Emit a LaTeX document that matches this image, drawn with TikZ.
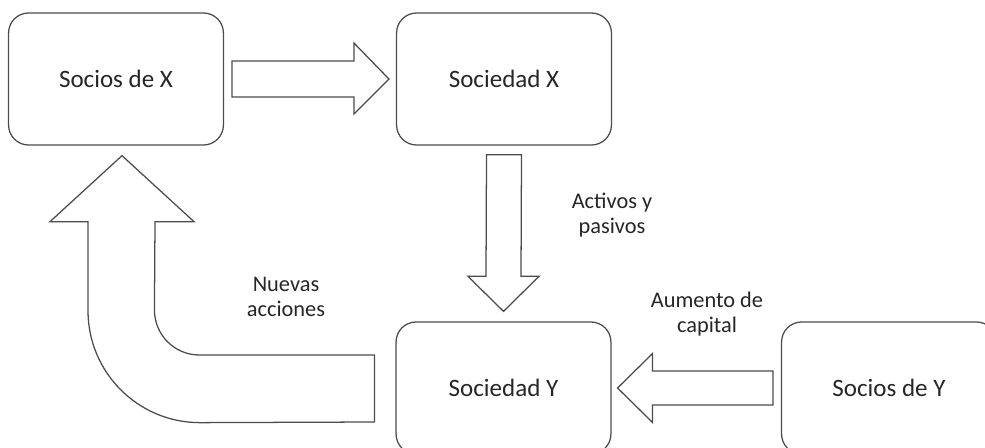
\documentclass[tikz,border=0pt]{standalone}
\usepackage{fontspec}
\setmainfont{Carlito}
\usetikzlibrary{calc}

\tikzset{
  caja/.style={draw=black!70,line width=0.9pt,rounded corners=0.5cm,minimum width=5.37cm,minimum height=3.3cm,text=black!85,font=\fontsize{17.8pt}{21pt}\selectfont},
  bloque/.style={draw=black!70,line width=0.9pt,fill=white,line join=miter},
  rotulo/.style={align=center,text=black!85,font=\fontsize{15.9pt}{18pt}\selectfont}
}

\begin{document}
\begin{tikzpicture}[x=0.025cm,y=-0.025cm]
\useasboundingbox (0,0) rectangle (985,447);
\clip (0,0) rectangle (985,447);
\node[caja] (sx) at (116,79) {Socios de X};
\node[caja] (dx) at (504,79) {Sociedad X};
\node[caja] (dy) at (503.5,388) {Sociedad Y};
\node[caja] (sy) at (889,388) {Socios de Y};
\draw[bloque] ($(sx.east)+(8,-18)$) -- ($(dx.west)+(-42,-18)$) -- ($(dx.west)+(-42,-36)$) -- ($(dx.west)+(-7,0)$) -- ($(dx.west)+(-42,35)$) -- ($(dx.west)+(-42,18)$) -- ($(sx.east)+(8,18)$) -- cycle;
\draw[bloque] ($(dx.south)+(-17.5,9)$) -- ($(dy.north)+(-17.5,-45)$) -- ($(dy.north)+(-35.5,-45)$) -- ($(dy.north)+(0,-10)$) -- ($(dy.north)+(35.5,-45)$) -- ($(dy.north)+(17.5,-45)$) -- ($(dx.south)+(17.5,9)$) -- cycle;
\draw[bloque] ($(sy.west)+(-8,-17)$) -- ($(dy.east)+(41,-17)$) -- ($(dy.east)+(41,-34.5)$) -- ($(dy.east)+(6,0)$) -- ($(dy.east)+(41,34.5)$) -- ($(dy.east)+(41,17)$) -- ($(sy.west)+(-8,17)$) -- cycle;
\draw[bloque] ($(dy.west)+(-21,-33)$) -- ++(-175,0) arc[start angle=90,end angle=180,radius=45] -- ($(sx.south)+(39,76)$) -- ++(39,0) -- ($(sx.south)+(6,10)$) -- ($(sx.south)+(-66,76)$) -- ++(38,0) -- ++(0,89) arc[start angle=180,end angle=90,radius=112] -- ($(dy.west)+(-21,34)$) -- cycle;
\node[rotulo] (acc) at (286,297) {Nuevas\\acciones};
\node[rotulo] (act) at (612,215) {Activos y\\pasivos};
\node[rotulo] (cap) at (707,314) {Aumento de\\capital};
\end{tikzpicture}
\end{document}
